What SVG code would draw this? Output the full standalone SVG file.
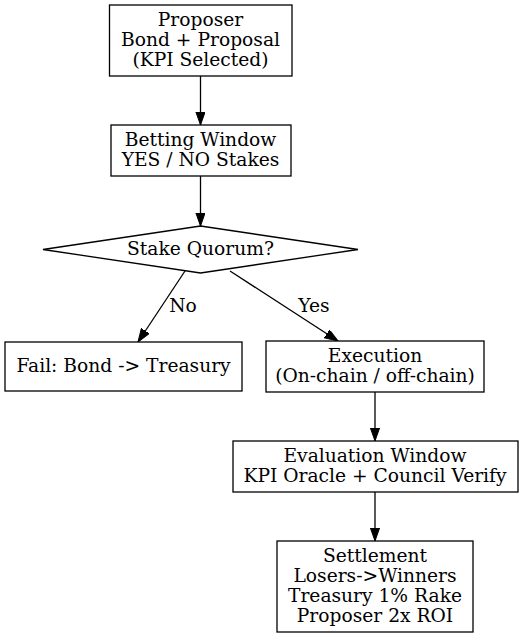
<svg xmlns="http://www.w3.org/2000/svg" width="524" height="637" viewBox="0 0 524 637">
<defs>
<marker id="ah" markerWidth="13.5" markerHeight="10" refX="13.3" refY="4.7" orient="auto" markerUnits="userSpaceOnUse">
<path d="M0,0 L13.3,4.7 L0,9.4 Z" fill="#000" stroke="#000" stroke-width="1"/>
</marker>
<style>
.n{fill:#fff;stroke:#000;stroke-width:1.3}
.t{font-family:"DejaVu Serif",serif;font-size:18.67px;text-anchor:middle;fill:#000}
.e{stroke:#000;stroke-width:1.3;fill:none;marker-end:url(#ah)}
</style>
</defs>
<rect width="524" height="637" fill="#fff"/>
<g id="connectors">
<line class="e" x1="200.5" y1="76" x2="200.5" y2="125"/>
<line class="e" x1="200.5" y1="176" x2="200.5" y2="226"/>
<line class="e" x1="185" y1="271" x2="138" y2="342"/>
<text class="t" x="183" y="312">No</text>
<line class="e" x1="230" y1="271" x2="338" y2="341"/>
<text class="t" x="314" y="312">Yes</text>
<line class="e" x1="375" y1="392" x2="375" y2="441"/>
<line class="e" x1="375" y1="492" x2="375" y2="541"/>
</g>
<g id="proposer">
<rect class="n" x="109.5" y="5" width="182.5" height="71"/>
<text class="t" x="200.5" y="26">Proposer</text>
<text class="t" x="200.5" y="46">Bond + Proposal</text>
<text class="t" x="200.5" y="66">(KPI Selected)</text>
</g>
<g id="betting">
<rect class="n" x="111" y="125" width="180" height="51"/>
<text class="t" x="200.5" y="146">Betting Window</text>
<text class="t" x="200.5" y="166">YES / NO Stakes</text>
</g>
<g id="quorum">
<polygon class="n" points="200.5,226 358,249.5 200.5,273 43,249.5"/>
<text class="t" x="200.5" y="255">Stake Quorum?</text>
</g>
<g id="fail">
<rect class="n" x="5" y="342" width="237" height="49"/>
<text class="t" x="123.5" y="372">Fail: Bond -&gt; Treasury</text>
</g>
<g id="execution">
<rect class="n" x="266" y="341" width="218" height="51"/>
<text class="t" x="375" y="362">Execution</text>
<text class="t" x="375" y="382">(On-chain / off-chain)</text>
</g>
<g id="evaluation">
<rect class="n" x="233" y="441" width="285" height="51"/>
<text class="t" x="375" y="462">Evaluation Window</text>
<text class="t" x="375" y="482">KPI Oracle + Council Verify</text>
</g>
<g id="settlement">
<rect class="n" x="277" y="541" width="196" height="91"/>
<text class="t" x="375" y="562">Settlement</text>
<text class="t" x="375" y="582">Losers-&gt;Winners</text>
<text class="t" x="375" y="602">Treasury 1% Rake</text>
<text class="t" x="375" y="622">Proposer 2x ROI</text>
</g>
</svg>
